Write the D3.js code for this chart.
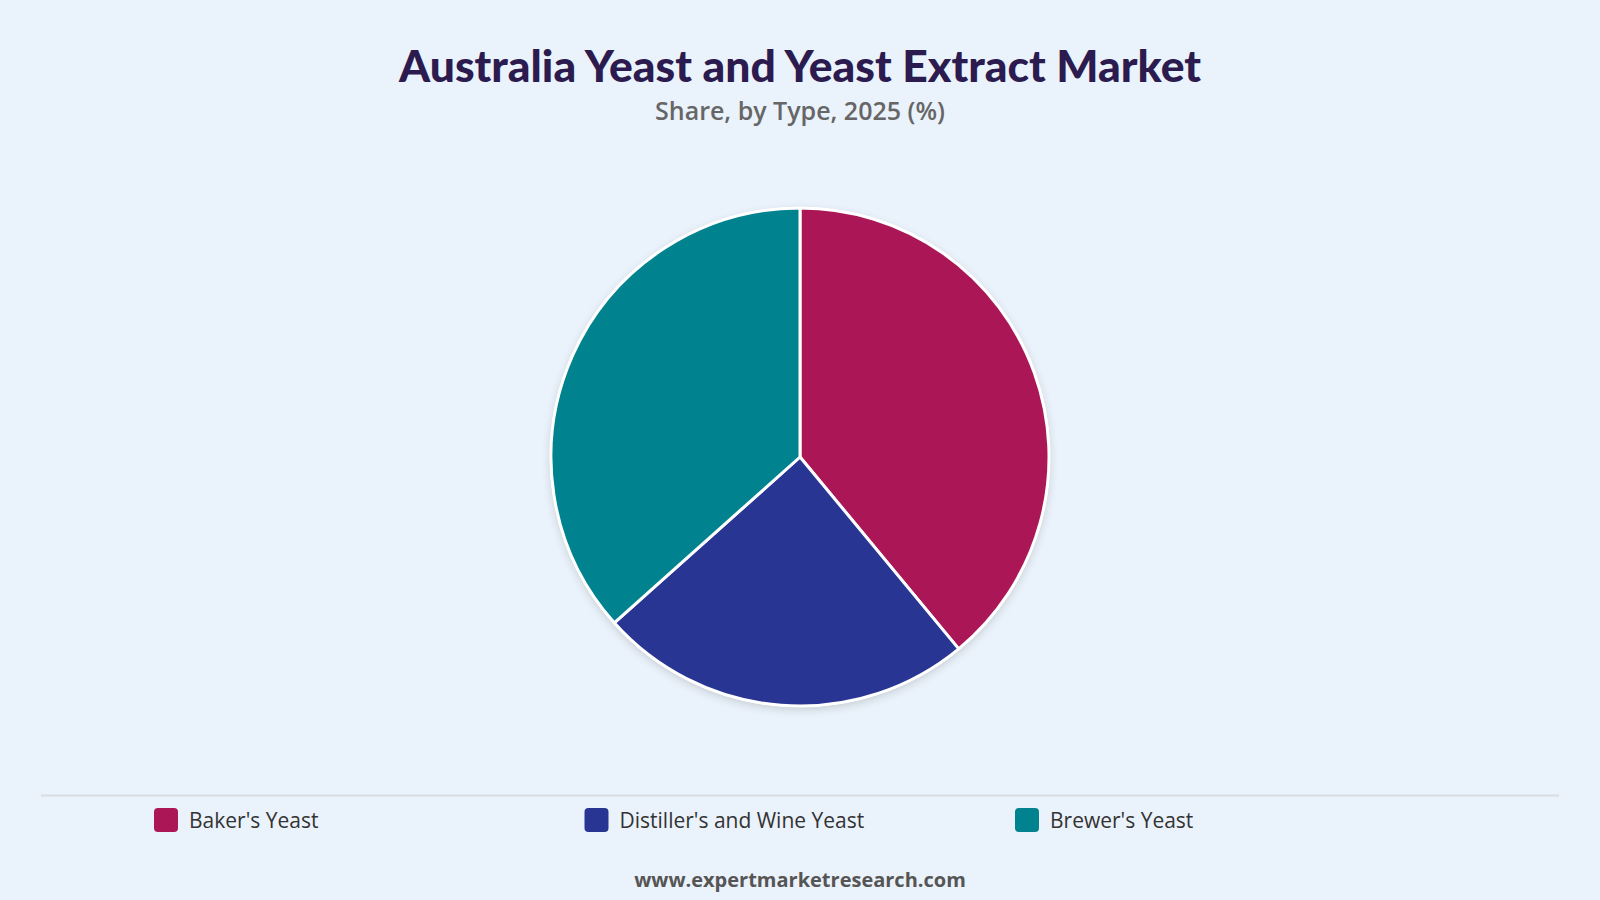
<!DOCTYPE html>
<meta charset='utf-8'>
<style>
body { margin: 0; background: #eaf2fb; }
svg text { font-family: 'Open Sans', 'Noto Sans', sans-serif; }
.title { font-family: 'Lato', sans-serif; font-weight: 900; fill: #2b1b4e; }
</style>
<script src='https://cdn.jsdelivr.net/npm/d3@7'></script>
<body>
<script>
'use strict'

// Data - share by type, 2025 (%)
let types = ["Baker's Yeast", "Distiller's and Wine Yeast", "Brewer's Yeast"],
	shares = [39.0, 24.4, 36.6],
	colours = ['#ab1656', '#283593', '#00838f']

let width = 1600, height = 900,
	cx = 800, cy = 457

let svg = d3.select('body').append('svg')
	.attr('width', width).attr('height', height)

svg.append('rect').attr('width', width).attr('height', height).attr('fill', '#eaf2fb')

let defs = svg.append('defs')
defs.append('filter').attr('id', 'shadow')
	.attr('x', '-20%').attr('y', '-20%').attr('width', '140%').attr('height', '140%')
	.append('feDropShadow')
		.attr('dx', 0).attr('dy', 3).attr('stdDeviation', 4)
		.attr('flood-color', '#000').attr('flood-opacity', 0.15)

// Titles
svg.append('text').attr('class', 'title')
	.attr('x', cx).attr('y', 82).attr('text-anchor', 'middle')
	.attr('font-size', 43)
	.attr('textLength', 802).attr('lengthAdjust', 'spacingAndGlyphs')
	.text('Australia Yeast and Yeast Extract Market')

svg.append('text')
	.attr('x', cx).attr('y', 120).attr('text-anchor', 'middle')
	.attr('font-size', 25).attr('font-weight', 600).attr('fill', '#666')
	.text('Share, by Type, 2025 (%)')

// Pie
let radius = 249,
	pie = d3.pie().sort(null).value(d => d),
	arc = d3.arc().innerRadius(0).outerRadius(radius),
	colour = d3.scaleOrdinal(types, colours)

let g = svg.append('g')
	.attr('transform', `translate(${cx},${cy})`)

g.append('circle').attr('r', radius + 1).attr('fill', '#fff')
	.attr('filter', 'url(#shadow)')

g.selectAll('path')
	.data(pie(shares))
	.join('path')
		.attr('d', arc)
		.attr('fill', (d, i) => colour(types[i]))
		.attr('stroke', '#fff').attr('stroke-width', 3)
		.attr('stroke-linejoin', 'round')

// Legend
svg.append('line')
	.attr('x1', 41).attr('x2', 1559).attr('y1', 795.5).attr('y2', 795.5)
	.attr('stroke', '#d9dde2').attr('stroke-width', 2)

let lx = d3.scalePoint(types, [154, 1015])

let items = svg.append('g').selectAll('g')
	.data(types)
	.join('g')
		.attr('transform', d => `translate(${lx(d)},808)`)

items.append('rect')
	.attr('width', 24).attr('height', 24).attr('rx', 4)
	.attr('fill', d => colour(d))

items.append('text')
	.attr('x', 35).attr('y', 20)
	.attr('font-size', 21).attr('fill', '#333')
	.text(d => d)

// Footer
svg.append('text')
	.attr('x', cx).attr('y', 887).attr('text-anchor', 'middle')
	.attr('font-size', 20).attr('font-weight', 700).attr('fill', '#555')
	.text('www.expertmarketresearch.com')
</script>
